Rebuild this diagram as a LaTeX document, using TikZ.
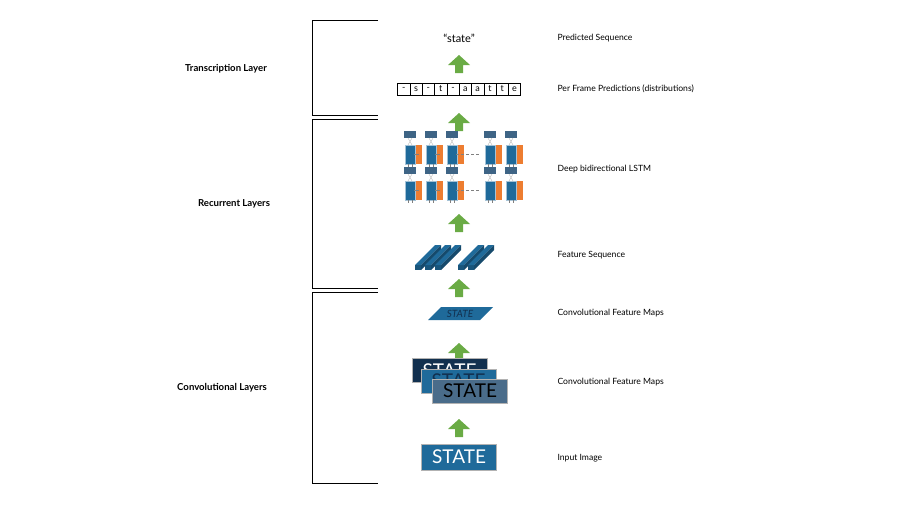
\documentclass[tikz,border=0pt]{standalone}
\usepackage{fontspec}
\setmainfont{Lato}
\definecolor{lstmblue}{HTML}{1F6A9A}
\definecolor{lstmorange}{HTML}{ED7D31}
\definecolor{darknavy}{HTML}{12304F}
\definecolor{greyblue}{HTML}{4A6C8A}
\definecolor{arrowgreen}{HTML}{6AAB45}
\definecolor{cellgrey}{HTML}{3E6485}
\tikzset{
  lbl/.style={anchor=west, font=\fontsize{8.6}{10}\selectfont},
  layer/.style={font=\bfseries\fontsize{9.6}{11}\selectfont},
  bracket/.style={line width=0.8pt},
  stacked/.style={draw=white!70!black, line width=0.4pt, minimum width=75pt, minimum height=24pt, inner sep=0pt, font=\fontsize{19}{20}\selectfont},
  pics/uparrow/.style={code={
    \fill[arrowgreen] (-4,9) -- (4,9) -- (4,1) -- (11,1) -- (0,-9) -- (-11,1) -- (-4,1) -- cycle;}},
  pics/cell/.style={code={
    \fill[lstmorange] (3,-9) rectangle (12,10);
    \fill[lstmblue, draw=white!60!lstmblue] (-5,-9) rectangle (5,10);
    \fill[cellgrey] (-6,-23) rectangle (6,-16);
    \draw[gray!70, line width=0.3pt] (-2,-16) -- (2,-9) (2,-16) -- (-2,-9);
    \draw[gray, line width=0.3pt] (-2,10) -- (-2,13) (2,10) -- (2,13);}},
  pics/bar/.style={code={
    \fill[lstmblue!80!black] (0,0) -- (6,0) -- (6,-5) -- (0,-5) -- cycle;
    \fill[lstmblue] (0,-5) -- (6,-5) -- (26,-25) -- (20,-25) -- cycle;
    \fill[lstmblue!70!black] (6,-5) -- (6,0) -- (26,-20) -- (26,-25) -- cycle;}}
}
\begin{document}
\begin{tikzpicture}[x=1pt, y=-1pt]
\useasboundingbox (0,0) rectangle (900,506);
% brackets
\draw[bracket] (378,20) -- (312,20) -- (312,115) -- (378,115);
\draw[bracket] (378,119) -- (312,119) -- (312,288) -- (378,288);
\draw[bracket] (378,292) -- (312,292) -- (312,483) -- (378,483);
\node[layer] (transcription) at (226,69) {Transcription Layer};
\node[layer] (recurrent) at (234,204) {Recurrent Layers};
\node[layer] (convolutional) at (222,388) {Convolutional Layers};

% center column
\node[font=\fontsize{11}{12}\selectfont] (predicted) at (459,38) {“state”};
\foreach \y in {64,122,223,288,352,428} \pic at (459,\y) {uparrow};

% per frame predictions
\foreach \c [count=\i] in {-,s,-,t,-,a,a,t,t,e}
  \node[draw, line width=0.5pt, minimum width=12.3pt, minimum height=12pt, inner sep=0pt,
        font=\fontsize{9}{10}\selectfont] (frame\i) at (391.5+12.3*\i,89) {\c};

% deep bidirectional lstm
\foreach \x in {410,431,452,490,511} {
  \pic at (\x,154) {cell};
  \pic at (\x,190) {cell};
}
\foreach \y in {154,190} {
  \draw[gray, line width=0.3pt] (414,\y) -- (419,\y) (435,\y) -- (440,\y);
  \draw[gray, densely dashed, line width=0.3pt] (456,\y) -- (479,\y);
}

% feature sequence
\foreach \x in {415,425,435,458,468} \pic at (\x,270) {bar};

% convolutional feature maps
\fill[lstmblue] (428,320) -- (441,307) -- (493,307) -- (480,320) -- cycle;
\node[font=\itshape\fontsize{10}{11}\selectfont, text=darknavy] (fmap) at (460,313.5) {STATE};
\node[stacked, fill=darknavy, text=white] (map1) at (449.5,370.5) {STATE};
\node[stacked, fill=lstmblue, text=darknavy] (map2) at (458.5,381) {STATE};
\node[stacked, fill=greyblue, text=black] (map3) at (470,391) {STATE};

% input image
\node[stacked, fill=lstmblue, text=white, minimum height=26pt] (input) at (459,457) {STATE};

% right labels
\node[lbl] (l1) at (554,38) {Predicted Sequence};
\node[lbl] (l2) at (554,89) {Per Frame Predictions (distributions)};
\node[lbl] (l3) at (554,169) {Deep bidirectional LSTM};
\node[lbl] (l4) at (554,255) {Feature Sequence};
\node[lbl] (l5) at (554,313) {Convolutional Feature Maps};
\node[lbl] (l6) at (554,382) {Convolutional Feature Maps};
\node[lbl] (l7) at (554,458) {Input Image};
\end{tikzpicture}
\end{document}
